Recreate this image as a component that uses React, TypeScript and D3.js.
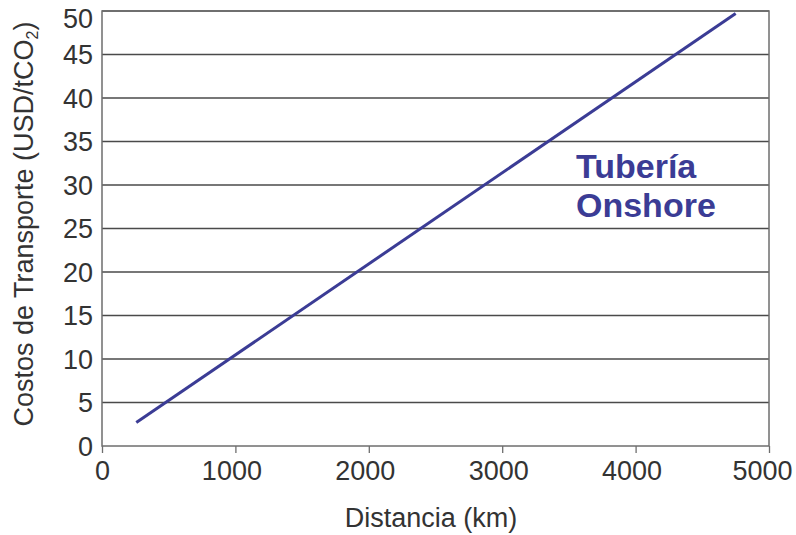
import React, { useEffect, useRef } from 'react';
import * as d3 from 'd3';

const distances = [257, 4750];
const costs = [2.7, 49.7];
const xTicks = [0, 1000, 2000, 3000, 4000, 5000];
const yTicks = [0, 5, 10, 15, 20, 25, 30, 35, 40, 45, 50];
const seriesLabel = ['Tubería', 'Onshore'];

const App = () => {
  const ref = useRef<SVGSVGElement>(null);

  useEffect(() => {
    const width = 796;
    const height = 535;
    const margin = { top: 11, right: 27, bottom: 89, left: 102 };
    const font = '"Liberation Sans", Arial, sans-serif';
    const blue = '#3b3c95';

    const svg = d3.select(ref.current);
    svg.selectAll('*').remove();

    const x = d3
      .scaleLinear()
      .domain([0, 5000])
      .range([margin.left, width - margin.right]);
    const y = d3
      .scaleLinear()
      .domain([0, 50])
      .range([height - margin.bottom, margin.top]);

    // Gridlines
    svg
      .append('g')
      .selectAll('line')
      .data(yTicks.filter((d) => d > 0))
      .join('line')
      .attr('x1', x(0))
      .attr('x2', x(5000))
      .attr('y1', (d) => y(d))
      .attr('y2', (d) => y(d))
      .attr('stroke', '#4a4a4a')
      .attr('stroke-width', 1.3);

    // Frame
    svg
      .append('rect')
      .attr('x', x(0))
      .attr('y', y(50))
      .attr('width', x(5000) - x(0))
      .attr('height', y(0) - y(50))
      .attr('fill', 'none')
      .attr('stroke', '#6e6e6e')
      .attr('stroke-width', 1.5);

    // X axis
    const xAxis = svg
      .append('g')
      .attr('transform', `translate(0,${y(0)})`)
      .call(d3.axisBottom(x).tickValues(xTicks).tickSize(7).tickSizeOuter(0).tickPadding(8).tickFormat(d3.format('d')));
    xAxis.select('.domain').remove();
    xAxis.selectAll('line').attr('stroke', '#6e6e6e').attr('stroke-width', 1.3);
    xAxis
      .selectAll('text')
      .attr('fill', '#333')
      .attr('dx', (d: any) => (d === 5000 ? -7 : d === 0 ? 0 : -4))
      .style('font-family', font)
      .style('font-size', '27px');

    // Y axis
    const yAxis = svg
      .append('g')
      .attr('transform', `translate(${x(0)},0)`)
      .call(d3.axisLeft(y).tickValues(yTicks).tickSize(0).tickPadding(9));
    yAxis.select('.domain').remove();
    yAxis
      .selectAll('text')
      .attr('fill', '#333')
      .attr('dy', '0.35em')
      .attr('y', (d: any) => (d === 50 ? 7 : 0))
      .style('font-family', font)
      .style('font-size', '27px');

    // Series line
    const pts = distances.map((d, i) => [d, costs[i]] as [number, number]);
    svg
      .append('path')
      .datum(pts)
      .attr('fill', 'none')
      .attr('stroke', blue)
      .attr('stroke-width', 3)
      .attr(
        'd',
        d3
          .line<[number, number]>()
          .x((d) => x(d[0]))
          .y((d) => y(d[1]))
      );

    // Series label
    svg
      .append('g')
      .selectAll('text')
      .data(seriesLabel)
      .join('text')
      .attr('x', 576)
      .attr('y', (_, i) => 178 + i * 39)
      .attr('fill', blue)
      .style('font-family', font)
      .style('font-weight', 'bold')
      .style('font-size', '34px')
      .text((d) => d);

    // Axis titles
    svg
      .append('text')
      .attr('x', 431)
      .attr('y', 527)
      .attr('text-anchor', 'middle')
      .attr('fill', '#333')
      .style('font-family', font)
      .style('font-size', '27px')
      .text('Distancia (km)');

    const yTitle = svg
      .append('text')
      .attr('transform', `translate(33,224) rotate(-90)`)
      .attr('text-anchor', 'middle')
      .attr('fill', '#333')
      .style('font-family', font)
      .style('font-size', '27px');
    yTitle.append('tspan').text('Costos de Transporte (USD/tCO');
    yTitle.append('tspan').attr('dy', 5).style('font-size', '16px').text('2');
    yTitle.append('tspan').attr('dy', -5).text(')');
  }, []);

  return (
    <svg
      ref={ref}
      width={796}
      height={535}
      style={{ position: 'absolute', left: 0, top: 0, background: '#fff' }}
    />
  );
};

export default App;
